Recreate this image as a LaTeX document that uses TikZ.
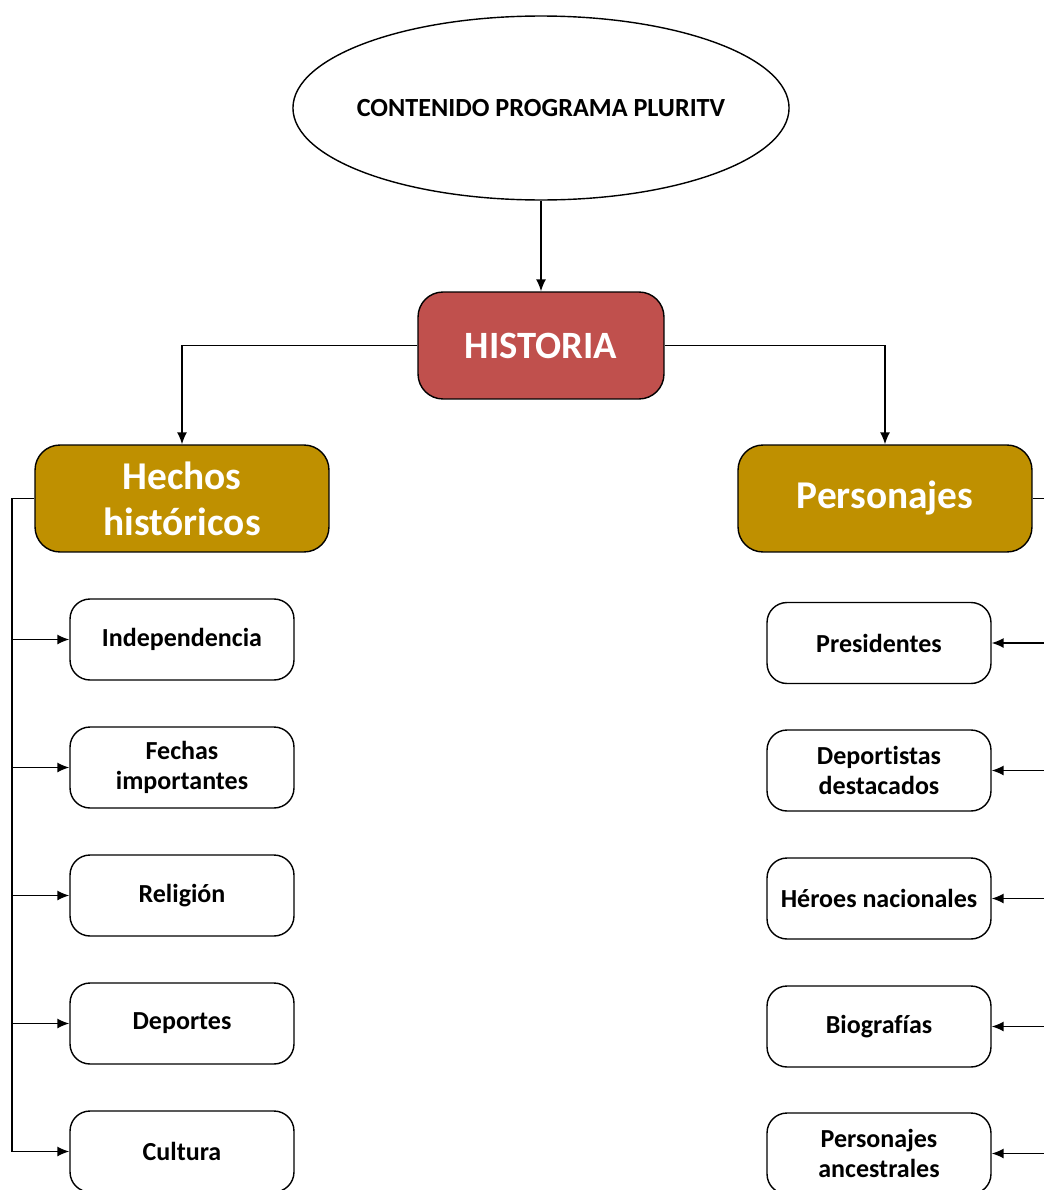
\documentclass[tikz,border=0pt]{standalone}
\usepackage{fontspec}
\setmainfont{Carlito}[Ligatures={NoCommon}]
\usetikzlibrary{shapes.geometric,arrows.meta}
\definecolor{histred}{HTML}{C0504D}
\definecolor{gold}{HTML}{BF9000}
\begin{document}
\begin{tikzpicture}[
        x=0.02cm, y=-0.02cm,
        -{Latex[length=2.4mm,width=2mm]} ,
        thick ,
        title/.style ={ ellipse, draw, inner xsep=-5pt, inner ysep=0pt, minimum width =9.84cm, minimum height =3.68cm, font=\fontsize{14.9}{17}\selectfont\bfseries},
        main/.style ={ draw, rounded corners =0.5cm, fill=histred, text=white, minimum width =4.92cm, minimum height =2.14cm, font=\fontsize{22}{26}\selectfont\bfseries},
        branch/.style ={ draw, rounded corners =0.5cm, fill=gold, text=white, minimum width =5.88cm, minimum height =2.14cm, align=center, font=\fontsize{22.4}{26}\selectfont\bfseries},
        item/.style ={ draw, rounded corners =0.4cm, fill=white, minimum width =4.48cm, minimum height =1.62cm, align=center, font=\fontsize{14.8}{17.2}\selectfont\bfseries},
    ]
    \useasboundingbox (0,0) rectangle (1044,1190);
    \clip (0,0) rectangle (1044,1190);

    \node[title] (prog) at (541,108) {CONTENIDO PROGRAMA PLURITV};
    \node[main] (hist) at (541,345.5) {HISTORIA};
    \node[branch] (hechos) at (182,498.5) {Hechos\\históricos};
    \node[branch] (perso) at (885,498.5) {Personajes};

    % hechos historicos
    \node[item] (indep) at (182,639.5) {Independencia};
    \node[item] (fechas) at (182,767.5) {Fechas\\importantes};
    \node[item] (relig) at (182,895.5) {Religión};
    \node[item] (deport) at (182,1023.5) {Deportes};
    \node[item] (cult) at (182,1151.5) {Cultura};

    % personajes
    \node[item] (pres) at (879,643) {Presidentes};
    \node[item] (depdest) at (879,770.5) {Deportistas\\destacados};
    \node[item] (heroes) at (879,898.5) {Héroes nacionales};
    \node[item] (bio) at (879,1026.5) {Biografías};
    \node[item] (ances) at (879,1153.5) {Personajes\\ancestrales};

    \coordinate (ltrunk) at (12,498.5);
    \coordinate (rtrunk) at (1060,498.5);

    \path (prog) edge (hist);
    \draw (hist.west) -| (hechos.north);
    \draw (hist.east) -| (perso.north);

    \draw (hechos.west) -- (ltrunk) |- (cult.west);
    \draw (ltrunk |- indep) -- (indep);
    \draw (ltrunk |- fechas) -- (fechas);
    \draw (ltrunk |- relig) -- (relig);
    \draw (ltrunk |- deport) -- (deport);

    \draw (perso.east) -- (rtrunk) |- (ances.east);
    \draw (rtrunk |- pres) -- (pres);
    \draw (rtrunk |- depdest) -- (depdest);
    \draw (rtrunk |- heroes) -- (heroes);
    \draw (rtrunk |- bio) -- (bio);

\end{tikzpicture}
\end{document}
